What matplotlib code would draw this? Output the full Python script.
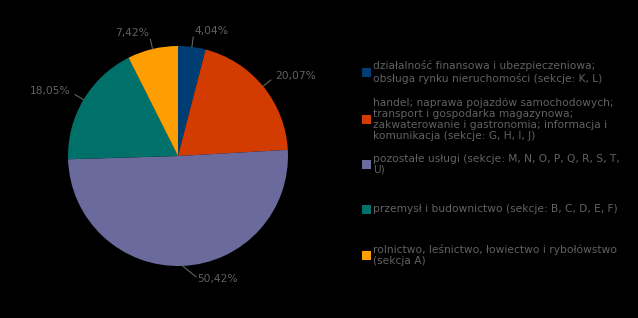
import numpy as np
import matplotlib
matplotlib.use("Agg")
import matplotlib.pyplot as plt
from matplotlib.patches import Rectangle

categories = [
    "działalność finansowa i ubezpieczeniowa;\nobsługa rynku nieruchomości (sekcje: K, L)",
    "handel; naprawa pojazdów samochodowych;\ntransport i gospodarka magazynowa;\nzakwaterowanie i gastronomia; informacja i\nkomunikacja (sekcje: G, H, I, J)",
    "pozostałe usługi (sekcje: M, N, O, P, Q, R, S, T,\nU)",
    "przemysł i budownictwo (sekcje: B, C, D, E, F)",
    "rolnictwo, leśnictwo, łowiectwo i rybołówstwo\n(sekcja A)",
]
values = [4.04, 20.07, 50.42, 18.05, 7.42]
labels = ["4,04%", "20,07%", "50,42%", "18,05%", "7,42%"]
colors = ["#003d73", "#d23c00", "#6a6a9c", "#00706a", "#ff9e00"]

text_color = "#626262"
W, H = 638, 318
fig = plt.figure(figsize=(W / 100, H / 100), dpi=100, facecolor="black")

cx, cy, r = 178, 156, 110
ax = fig.add_axes([(cx - r) / W, 1 - (cy + r) / H, 2 * r / W, 2 * r / H])
ax.set_facecolor("black")
wedges, _ = ax.pie(values, colors=colors, startangle=90, counterclock=False,
                   radius=1.0, wedgeprops=dict(linewidth=0))
ax.set_xlim(-1, 1)
ax.set_ylim(-1, 1)
ax.set_aspect("auto")
ax.axis("off")

# horizontal nudge (axes units) for labels whose leader line bends sideways
nudge = {2: 0.12}
for i, (w, lab) in enumerate(zip(wedges, labels)):
    ang = np.deg2rad((w.theta1 + w.theta2) / 2)
    x0, y0 = np.cos(ang), np.sin(ang)
    side = 1 if x0 >= 0 else -1
    if i in nudge:
        tx = 1.13 * x0 + nudge[i] * side
        ty = 1.12 * y0
        x1, y1 = tx - 0.005 * side, ty + 0.02
    else:
        tx = 1.13 * x0
        ty = 1.15 * y0
        x1, y1 = 1.09 * x0, 1.09 * y0
    ax.plot([x0, x1], [y0, y1], color=text_color, lw=0.8, clip_on=False)
    ax.text(tx + 0.005 * side, ty, lab, ha="left" if side > 0 else "right",
            va="center", fontsize=7.7, color=text_color, clip_on=False)

# legend
leg_y = [72, 119, 164, 209, 255]
for cat, col, yy in zip(categories, colors, leg_y):
    fig.patches.append(Rectangle((362 / W, 1 - (yy + 5) / H), 9 / W, 9 / H,
                                 transform=fig.transFigure, facecolor=col,
                                 edgecolor="none"))
    fig.text(373 / W, 1 - yy / H, cat, ha="left", va="center", fontsize=7.7,
             color=text_color, linespacing=1.12)

fig.savefig("out.png", dpi=100, facecolor="black")
